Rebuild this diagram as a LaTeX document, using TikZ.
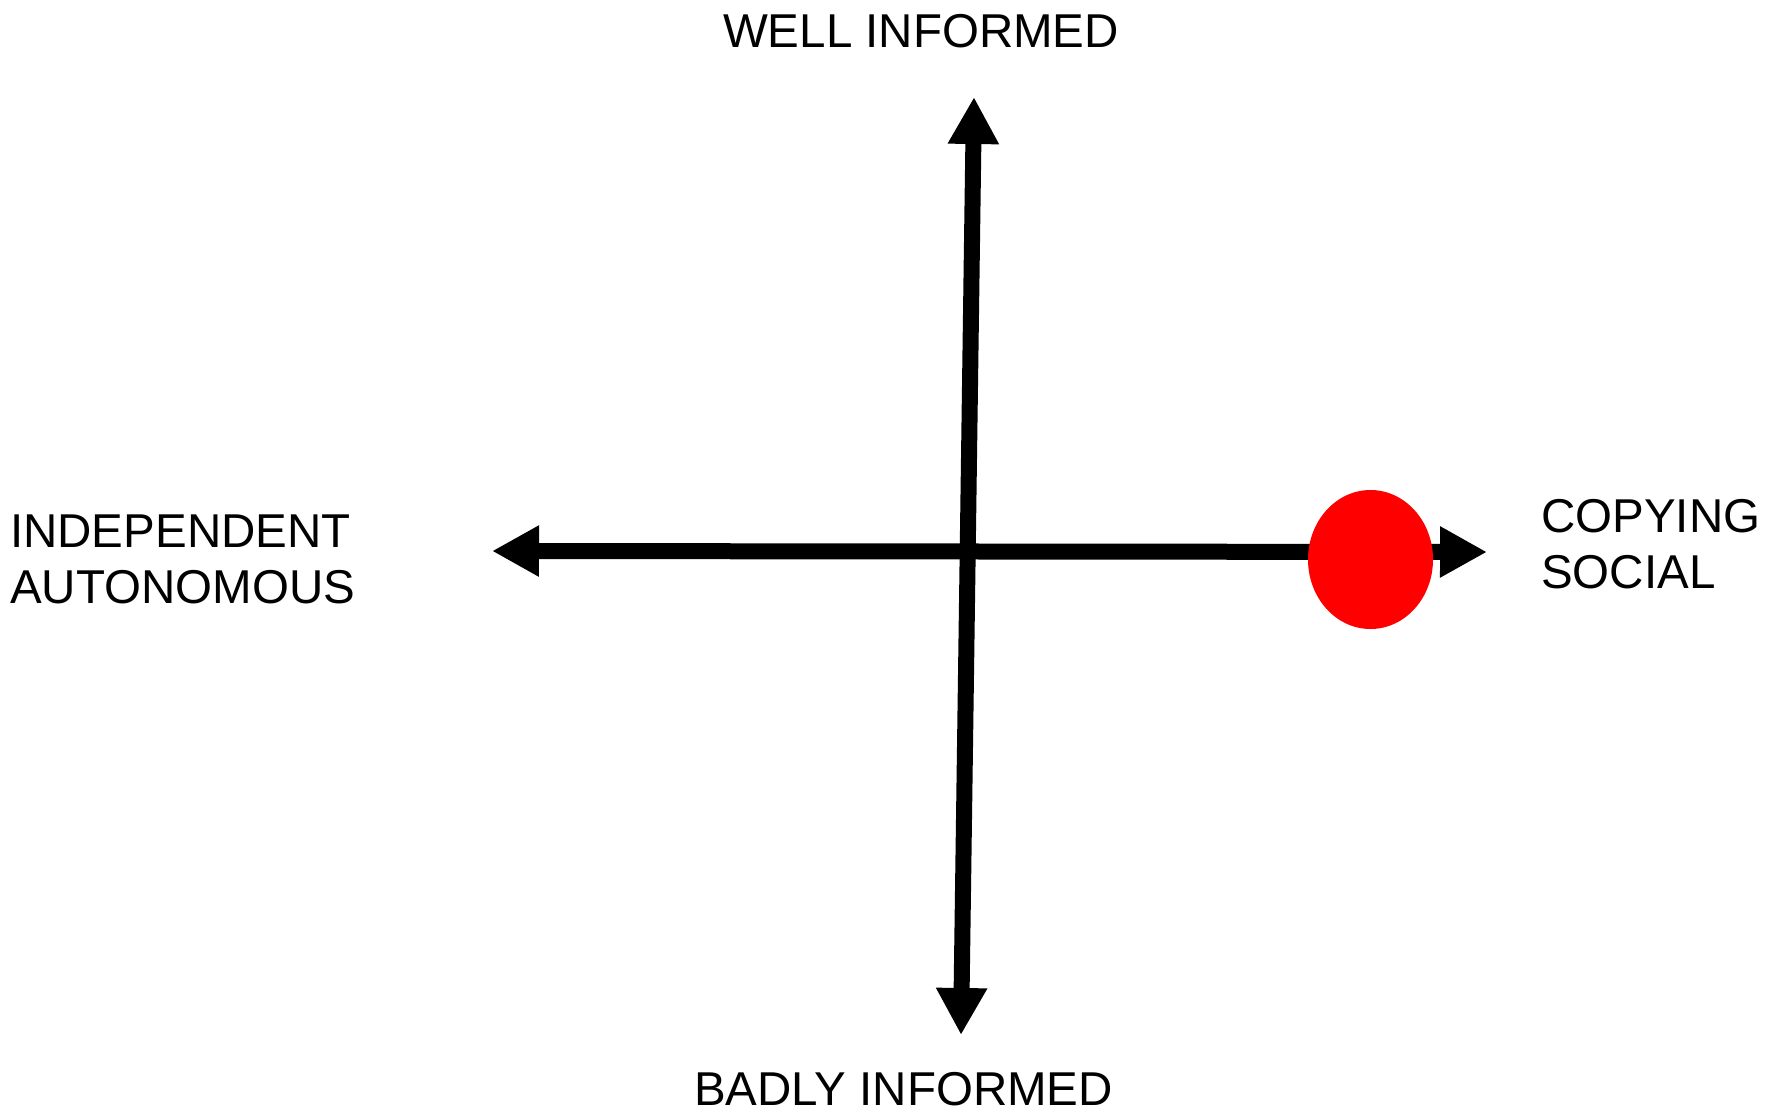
\documentclass[tikz,border=0pt]{standalone}
\usepackage{fontspec}
\setmainfont{Liberation Sans}
\usetikzlibrary{arrows.meta,shapes.geometric}
\begin{document}
\begin{tikzpicture}[x=1pt,y=-1pt,
  axis/.style={line width=16pt,line join=miter},
  lbl/.style={inner sep=0pt,font=\fontsize{47.5}{56}\selectfont,align=left}]
\useasboundingbox (0,0) rectangle (1783,1112);
\coordinate (vtop) at (974,97);
\coordinate (vbot) at (961,1035);
\coordinate (hleft) at (492,551);
\coordinate (hright) at (1487,552);
\draw[axis,{Triangle[width=48pt,length=47pt]}-{Triangle[width=48pt,length=47pt]}] (vbot) -- (vtop);
\draw[axis,{Triangle[width=48pt,length=47pt]}-{Triangle[width=48pt,length=47pt]}] (hleft) -- (hright);
\node[ellipse,fill=red,minimum width=125pt,minimum height=139pt,inner sep=0pt] (dot) at (1370.5,559.5) {};
\node[lbl,anchor=base] (well) at (921,47) {WELL INFORMED};
\node[lbl,anchor=base] (badly) at (903.5,1105) {BADLY INFORMED};
\node[lbl,anchor=base west] (indep) at (10,603) {INDEPENDENT\\AUTONOMOUS};
\node[lbl,anchor=base west] (copy) at (1541,588) {COPYING\\SOCIAL};
\end{tikzpicture}
\end{document}
